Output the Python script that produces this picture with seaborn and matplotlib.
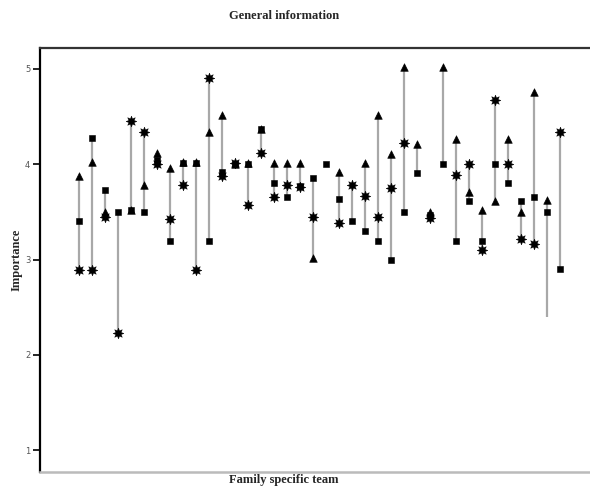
import numpy as np
import pandas as pd
import matplotlib
matplotlib.use("Agg")
import matplotlib.pyplot as plt
import seaborn as sns

nan = np.nan
items = list(range(1, 39))
triangle = [3.88, 4.02, 3.50, nan, 3.52, 3.78, 4.12, 3.96, 4.02, 4.02,
            4.34, 4.52, 4.00, 4.01, 4.37, 4.01, 4.01, 4.01, 3.02, nan,
            3.92, nan, 4.01, 4.52, 4.11, 5.02, 4.21, 3.50, 5.02, 4.27,
            3.71, 3.52, 3.61, 4.27, 3.50, 4.76, 3.62, nan]
square = [3.40, 4.28, 3.73, 3.50, 3.52, 3.50, 4.05, 3.20, 4.01, 4.01,
          3.20, 3.92, 4.00, 4.00, 4.37, 3.80, 3.66, 3.77, 3.86, 4.00,
          3.64, 3.40, 3.30, 3.20, 3.00, 3.50, 3.91, 3.47, 4.00, 3.20,
          3.61, 3.20, 4.00, 3.80, 3.61, 3.66, 3.50, 2.90]
star = [2.89, 2.89, 3.45, 2.23, 4.45, 4.34, 4.00, 3.43, 3.78, 2.89,
        4.90, 3.88, 4.01, 3.57, 4.12, 3.66, 3.78, 3.76, 3.45, nan,
        3.38, 3.78, 3.67, 3.45, 3.75, 4.22, nan, 3.44, nan, 3.89,
        4.00, 3.10, 4.67, 4.00, 3.22, 3.16, nan, 4.34]
range_low = [2.89, 2.89, 3.45, 2.23, 3.52, 3.50, 4.00, 3.20, 3.78, 2.89,
             3.20, 3.88, 4.00, 3.57, 4.12, 3.66, 3.66, 3.76, 3.02, 4.00,
             3.38, 3.40, 3.30, 3.20, 3.00, 3.50, 3.91, 3.44, 4.00, 3.20,
             3.61, 3.10, 3.61, 3.80, 3.22, 3.16, 2.40, 2.90]
range_high = [3.88, 4.28, 3.73, 3.50, 4.45, 4.34, 4.12, 3.96, 4.02, 4.02,
              4.90, 4.52, 4.01, 4.01, 4.37, 4.01, 4.01, 4.01, 3.86, 4.00,
              3.92, 3.78, 4.01, 4.52, 4.11, 5.02, 4.21, 3.50, 5.02, 4.27,
              4.00, 3.52, 4.67, 4.27, 3.61, 4.76, 3.62, 4.34]
yticks = [1, 2, 3, 4, 5]

df = pd.DataFrame({"item": np.arange(len(items)), "tri": triangle, "sq": square,
                   "star": star, "lo": range_low, "hi": range_high})

sns.set_style("white")
fig = plt.figure(figsize=(5.9, 4.88), dpi=100)
ax = fig.add_axes([40/590, 1-472/488, 550/590, (472-48)/488])

ax.vlines(df["item"], df["lo"], df["hi"], color="#a8a8a8", lw=1.6, zorder=1)
sns.scatterplot(data=df, x="item", y="tri", marker="^", s=30, color="black",
                edgecolor="black", linewidth=0.4, ax=ax, zorder=3)
sns.scatterplot(data=df, x="item", y="sq", marker="s", s=22, color="black",
                edgecolor="black", linewidth=0.4, ax=ax, zorder=4)
sns.scatterplot(data=df, x="item", y="star", marker=(8, 1, 0), s=58, color="black",
                edgecolor="black", linewidth=0.4, ax=ax, zorder=5)

ax.set_xlim(-3.0, 39.3)
ax.set_ylim(0.771, 5.22)
ax.set_xticks([])
ax.set_yticks(yticks)
ax.set_yticklabels([str(t) for t in yticks], color="#555555", fontsize=6,
                   family="DejaVu Sans")
ax.tick_params(axis="y", direction="out", length=5, width=1.2, color="black", pad=2, left=True)
ax.set_xlabel("")
ax.set_ylabel("")

ax.spines["right"].set_visible(False)
ax.spines["left"].set_color("black")
ax.spines["left"].set_linewidth(1.6)
ax.spines["top"].set_color("#333333")
ax.spines["top"].set_linewidth(1.6)
ax.spines["bottom"].set_color("#bbbbbb")
ax.spines["bottom"].set_linewidth(1.8)

fig.text(284/590, 1-16/488, "General information", ha="center", va="center",
         fontsize=9, fontweight="bold", family="Liberation Serif")
fig.text(284/590, 1-480/488, "Family specific team", ha="center", va="center",
         fontsize=9, fontweight="bold", family="Liberation Serif")
fig.text(17/590, 1-260/488, "Importance", ha="center", va="center", rotation=90,
         fontsize=9, fontweight="bold", family="Liberation Serif")

fig.savefig("out.png", dpi=100)
